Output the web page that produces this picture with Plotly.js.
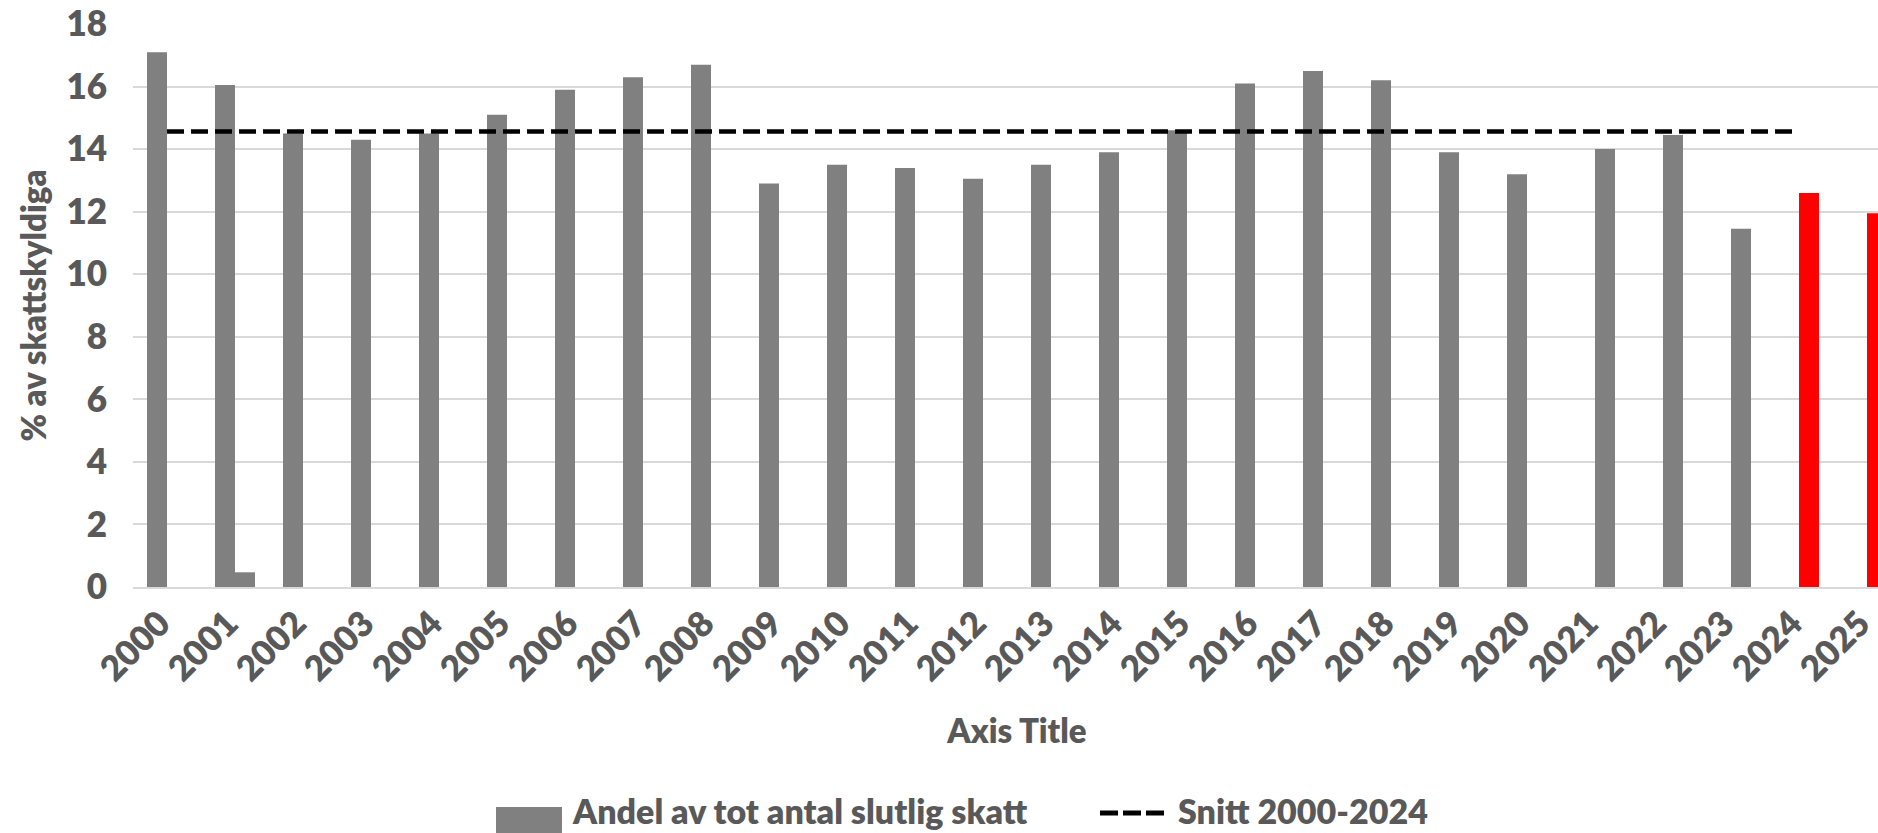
<!DOCTYPE html>
<html>
<head>
<meta charset="utf-8">
<script src="https://cdn.plot.ly/plotly-3.0.1.min.js"></script>
<style>
  html, body { margin: 0; padding: 0; overflow: hidden; background: #fff; }
  #chart { width: 1901px; height: 833px; }
</style>
</head>
<body>
<div id="chart"></div>
<script>
// ---- data ----
var years = ['2000','2001','2002','2003','2004','2005','2006','2007','2008','2009',
             '2010','2011','2012','2013','2014','2015','2016','2017','2018','2019',
             '2020','2021','2022','2023','2024','2025'];
// first bar series (left slot in each category)
var andelValues = [17.1, 16.05, 14.5, 14.3, 14.5, 15.1, 15.9, 16.3, 16.7, 12.9,
                   13.5, 13.4, 13.05, 13.5, 13.9, 14.6, 16.1, 16.5, 16.2, 13.9,
                   13.2, null, null, null, null, null];
// second bar series (right slot in each category)
var secondValues = [null, 0.47, null, null, null, null, null, null, null, null,
                    null, null, null, null, null, null, null, null, null, null,
                    null, 14.0, 14.45, 11.45, 12.6, 11.95];
var snittYears = ['2000','2001','2002','2003','2004','2005','2006','2007','2008','2009',
                  '2010','2011','2012','2013','2014','2015','2016','2017','2018','2019',
                  '2020','2021','2022','2023','2024'];
var snittValues = [14.56, 14.56, 14.56, 14.56, 14.56, 14.56, 14.56, 14.56, 14.56, 14.56,
                   14.56, 14.56, 14.56, 14.56, 14.56, 14.56, 14.56, 14.56, 14.56, 14.56,
                   14.56, 14.56, 14.56, 14.56, 14.56];
var highlightYears = ['2024', '2025'];
var yTickValues = [0, 2, 4, 6, 8, 10, 12, 14, 16, 18];
var seriesNames = ['Andel av tot antal slutlig skatt', 'Snitt 2000-2024', 'Serie 2'];

// ---- styling / layout constants ----
var GRAY = '#808080', RED = '#ff0000', TEXT = '#595959', GRID = '#d9d9d9';
var FONT = 'Lato, "Open Sans", "DejaVu Sans", sans-serif';
var W = 1901, H = 833, ML = 133, MR = 0, MT = 24, MB = 246;
var PW = W - ML - MR, PH = H - MT - MB;
function X(px) { return (px - ML) / PW; }
function Y(py) { return (MT + PH - py) / PH; }
function colorFor(y) { return highlightYears.indexOf(y) >= 0 ? RED : GRAY; }

var traces = [
  { type: 'bar', name: seriesNames[0], x: years, y: andelValues,
    marker: { color: years.map(colorFor) }, showlegend: false, hoverinfo: 'x+y' },
  { type: 'bar', name: seriesNames[2], x: years, y: secondValues,
    marker: { color: years.map(colorFor) }, showlegend: false, hoverinfo: 'x+y' },
  { type: 'scatter', mode: 'lines', name: seriesNames[1], x: snittYears, y: snittValues,
    line: { color: '#000000', width: 4.5, dash: '17px,7px' }, showlegend: false }
];

var tickFont = { family: FONT, size: 35, color: TEXT, weight: 800 };
var titleFont = { family: FONT, size: 33, color: TEXT, weight: 800 };
var legendFont = { family: FONT, size: 34, color: TEXT, weight: 800 };

var layout = {
  width: W, height: H,
  margin: { l: ML, r: MR, t: MT, b: MB, pad: 0 },
  paper_bgcolor: '#ffffff', plot_bgcolor: '#ffffff',
  barmode: 'group', bargap: 0.412, bargroupgap: 0,
  font: { family: FONT, color: TEXT, size: 35, weight: 800 },
  showlegend: false,
  xaxis: {
    type: 'category', categoryorder: 'array', categoryarray: years,
    range: [-0.5, 25.5],
    showgrid: false, showline: true, linecolor: GRID, linewidth: 2,
    ticks: '', tickangle: -45, ticklabelstandoff: 0, ticklabelshift: -7,
    tickfont: tickFont,
    title: { text: 'Axis Title', standoff: 33, font: titleFont },
    fixedrange: true
  },
  yaxis: {
    range: [0, 18], tickmode: 'array', tickvals: yTickValues,
    showgrid: true, gridcolor: GRID, gridwidth: 2,
    zeroline: false, showline: false, ticks: '', ticklabelstandoff: 25,
    tickfont: tickFont,
    title: { text: '% av skattskyldiga', standoff: 9, font: titleFont },
    fixedrange: true
  },
  shapes: [
    { type: 'rect', xref: 'paper', yref: 'paper',
      x0: X(496), x1: X(562), y0: Y(834), y1: Y(807),
      fillcolor: GRAY, line: { width: 0 } },
    { type: 'line', xref: 'paper', yref: 'paper',
      x0: X(1100), x1: X(1165), y0: Y(813), y1: Y(813),
      line: { color: '#000000', width: 5, dash: '18px,5px' } }
  ],
  annotations: [
    { xref: 'paper', yref: 'paper', x: X(570), y: Y(810), xanchor: 'left', yanchor: 'middle',
      text: seriesNames[0], showarrow: false, font: legendFont },
    { xref: 'paper', yref: 'paper', x: X(1176), y: Y(810), xanchor: 'left', yanchor: 'middle',
      text: seriesNames[1], showarrow: false, font: legendFont }
  ]
};

Plotly.newPlot('chart', traces, layout, { displayModeBar: false, staticPlot: true });
</script>
</body>
</html>
